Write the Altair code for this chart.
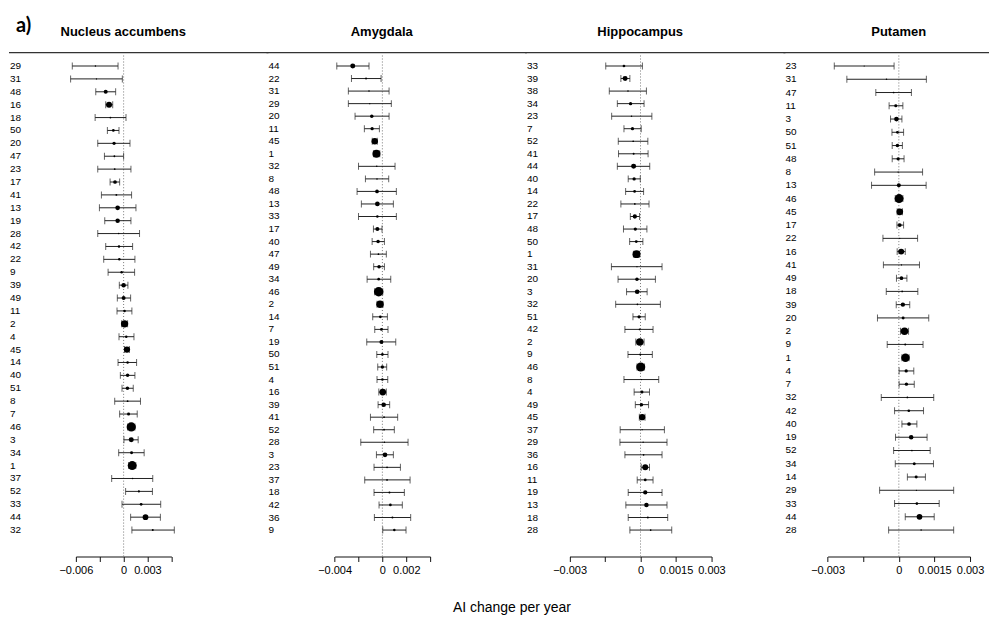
import altair as alt
import pandas as pd

# ---------------- data (values in units of 0.001 AI change per year) ----------------
NA_ids = ["29","31","48","16","18","50","20","47","23","17","41","13","19","28","42","22","9","39","49","11",
          "2","4","45","14","40","51","8","7","46","3","34","1","37","52","33","44","32"]
NA_est = [-3.54,-3.41,-2.25,-1.83,-1.66,-1.29,-1.20,-1.16,-1.12,-1.08,-0.91,-0.75,-0.75,-0.62,-0.58,-0.54,-0.25,0.00,0.00,0.12,
          0.12,0.33,0.42,0.50,0.50,0.48,0.50,0.62,0.96,0.96,1.00,1.08,1.13,1.92,2.20,2.75,3.66]
NA_lo = [-6.45,-6.66,-3.50,-2.25,-3.58,-2.04,-3.25,-2.41,-3.25,-1.70,-2.79,-3.04,-2.37,-3.25,-2.25,-2.50,-1.95,-0.54,-0.79,-0.83,
         -0.25,-0.58,0.12,-0.70,-0.41,-0.20,-1.12,-0.50,0.50,0.04,-0.62,0.63,-1.50,0.25,-0.20,0.88,1.04]
NA_hi = [-0.70,-0.16,-1.00,-1.37,0.30,-0.58,0.80,0.00,0.92,-0.50,1.00,1.55,0.92,2.00,1.13,1.42,1.38,0.54,0.88,1.04,
         0.50,1.30,0.72,1.63,1.42,1.21,2.12,1.71,1.42,1.83,2.58,1.53,3.66,3.62,4.66,4.62,6.37]
NA_w = [1.5,1.3,4,6,1.8,2.7,3.3,1.8,1.8,3.7,1.8,4.7,4.5,1.5,2.5,2.5,2.5,4.5,4,2.5,
        7.3,2.5,6.3,2.5,3.5,3.5,1.8,3,9.3,5,3,9,1.5,2.2,2.8,5.7,2]

AM_ids = ["44","22","31","29","20","11","45","1","32","8","48","13","33","17","40","47","49","34","46","2",
          "14","7","19","50","51","4","16","39","41","52","28","3","23","37","18","42","36","9"]
AM_est = [-2.48,-1.37,-1.12,-1.06,-0.89,-0.86,-0.64,-0.50,-0.47,-0.45,-0.45,-0.42,-0.42,-0.42,-0.36,-0.33,-0.28,-0.31,-0.31,-0.20,
          -0.17,-0.08,-0.08,0.00,0.00,0.00,0.03,0.11,0.14,0.14,0.17,0.22,0.39,0.39,0.59,0.67,0.84,1.00]
AM_lo = [-3.82,-2.59,-2.85,-2.85,-2.29,-1.51,-0.85,-0.75,-2.00,-1.42,-2.12,-1.76,-2.00,-0.75,-0.86,-1.00,-0.73,-1.28,-0.65,-0.45,
         -0.81,-0.64,-1.31,-0.47,-0.39,-0.45,-0.30,-0.36,-1.00,-0.73,-1.81,-0.50,-0.70,-1.48,-0.70,-0.28,-0.67,0.03]
AM_hi = [-1.12,-0.11,0.56,0.75,0.56,-0.25,-0.43,-0.22,1.06,0.53,1.17,0.92,1.17,-0.03,0.17,0.33,0.17,0.70,0.03,0.05,
         0.42,0.47,1.12,0.47,0.36,0.45,0.33,0.61,1.28,1.00,2.15,0.92,1.51,2.32,1.84,1.67,2.37,1.98]
AM_w = [5,2,1.5,1.3,3.5,3.3,6.5,8,1.5,1.5,3.7,4.7,2.5,4,3.5,1.7,3.5,2.7,9.5,7.5,
        2.8,2.8,4,2.7,3.3,2.5,6.7,4.5,1.7,1.7,1.5,4.7,1.7,1.7,2,2.7,2,2.5]

HI_ids = ["33","39","38","34","23","7","52","41","44","40","14","22","17","48","50","1","31","20","3","32",
          "51","42","2","9","46","8","4","49","45","37","29","36","16","11","19","13","18","28"]
HI_est = [-0.70,-0.65,-0.53,-0.42,-0.38,-0.34,-0.31,-0.29,-0.29,-0.27,-0.25,-0.24,-0.24,-0.22,-0.18,-0.17,-0.15,-0.15,-0.14,-0.13,
          -0.06,-0.04,-0.03,-0.01,0.01,0.04,0.06,0.04,0.07,0.07,0.11,0.13,0.20,0.20,0.20,0.25,0.31,0.43]
HI_lo = [-1.47,-0.83,-1.32,-0.98,-1.22,-0.70,-0.94,-0.93,-0.98,-0.52,-0.63,-0.83,-0.43,-0.72,-0.46,-0.30,-1.23,-0.95,-0.59,-1.05,
         -0.32,-0.66,-0.20,-0.53,-0.15,-0.70,-0.27,-0.22,-0.05,-0.86,-0.87,-0.66,0.03,-0.14,-0.52,-0.62,-0.52,-0.45]
HI_hi = [0.08,-0.45,0.25,0.15,0.48,0.03,0.31,0.32,0.39,-0.01,0.13,0.36,-0.04,0.27,0.10,-0.04,0.91,0.63,0.28,0.84,
         0.20,0.53,0.15,0.50,0.17,0.77,0.38,0.34,0.19,1.01,1.12,0.91,0.38,0.53,0.91,1.12,1.15,1.32]
HI_w = [2.7,5,1.5,3.3,1.5,3.3,1.7,2,5,3.3,2.7,1.7,4.3,3.3,2.8,8,1.2,3.5,4.7,1.7,
        3.3,1.7,7.5,2,9,1.3,3,3.5,6.3,1.3,1.3,1.7,6,2.8,4.3,4.5,2,1.7]

PU_ids = ["23","31","47","11","3","50","51","48","8","13","46","45","17","22","16","41","49","18","39","20",
          "2","9","1","4","7","32","42","40","19","52","34","14","29","33","44","28"]
PU_est = [-1.46,-0.52,-0.22,-0.13,-0.10,-0.06,-0.06,-0.03,-0.03,0.00,0.01,0.04,0.04,0.04,0.10,0.11,0.11,0.14,0.17,0.18,
          0.24,0.27,0.28,0.31,0.32,0.36,0.42,0.43,0.52,0.55,0.65,0.73,0.74,0.76,0.87,0.94]
PU_lo = [-2.72,-2.19,-0.97,-0.41,-0.35,-0.29,-0.28,-0.28,-1.02,-1.15,-0.15,-0.07,-0.08,-0.67,-0.07,-0.65,-0.10,-0.53,-0.11,-0.90,
         0.07,-0.49,0.13,0.01,0.01,-0.74,-0.18,0.13,-0.14,-0.22,-0.15,0.36,-0.81,-0.18,0.27,-0.43]
PU_hi = [-0.20,1.16,0.53,0.17,0.13,0.20,0.15,0.22,1.00,1.15,0.17,0.15,0.20,0.79,0.27,0.87,0.34,0.80,0.46,1.26,
         0.41,1.02,0.43,0.63,0.65,1.47,1.04,0.76,1.19,1.32,1.46,1.12,2.31,1.70,1.49,2.31]
PU_w = [1.2,1.5,1.7,3,4.7,2.8,3.5,3.3,1.3,4,9,6.7,3.7,1.3,6,1.3,3.7,1.7,4.3,3,
        7.5,2,8.5,3.3,3.3,1.7,2.7,3.7,4.5,1.7,3,3,1.3,2.7,5.7,1.5]

UNIT = 0.001
TITLES = ["Nucleus accumbens", "Amygdala", "Hippocampus", "Putamen"]
TICKS = [[-0.006, -0.003, 0, 0.003, 0.006],
         [-0.004, -0.002, 0, 0.002, 0.004],
         [-0.003, -0.0015, 0, 0.0015, 0.003],
         [-0.003, -0.0015, 0, 0.0015, 0.003]]
TICK_LABELS = [["\u22120.006", "", "0", "0.003", ""],
               ["\u22120.004", "", "0", "0.002", ""],
               ["\u22120.003", "", "0", "0.0015", "0.003"],
               ["\u22120.003", "", "0", "0.0015", "0.003"]]

# ---------------- layout / style ----------------
FONT = "Liberation Sans"
H = 549
WIDTHS = [259, 259, 259, 205]
XRANGES = [[67, 162.7], [67.3, 163], [43.7, 185.9], [43.3, 186]]
ROW_RANGE = [57.5, 522.5]


def label_expr(vals, labs):
    expr = "''"
    for v, l in reversed(list(zip(vals, labs))):
        expr = f"abs(datum.value - ({v})) < 1e-9 ? '{l}' : ({expr})"
    return expr


def panel(i, ids, est, lo, hi, w, with_tag=False):
    df = pd.DataFrame({
        "id": ids,
        "est": [v * UNIT for v in est],
        "lo": [v * UNIT for v in lo],
        "hi": [v * UNIT for v in hi],
        "weight": w,
    })
    width = WIDTHS[i]
    vals = TICKS[i]
    xs = alt.Scale(domain=[vals[0], vals[-1]], range=XRANGES[i], nice=False, zero=False)
    xa = alt.Axis(values=vals, labelExpr=label_expr(vals, TICK_LABELS[i]), title=None, grid=False,
                  domainColor="#111", tickColor="#111", domainWidth=1, tickWidth=1, tickSize=5,
                  labelFont=FONT, labelFontSize=11, labelColor="black", labelPadding=3,
                  labelFlush=False, labelOverlap=False)

    def X(field):
        return alt.X(f"{field}:Q", scale=xs, axis=xa)

    ys = alt.Y("id:N", sort=ids, axis=None,
               scale=alt.Scale(type="point", range=ROW_RANGE, padding=0))

    base = alt.Chart(df)
    one = pd.DataFrame({"z": [0.0], "t": [TITLES[i]], "tag": ["a)"]})

    x_start = 0 if i == 0 else -1
    x_end = width if i == 3 else width + 1
    header = alt.Chart(one).mark_rule(color="#333", strokeWidth=1.3).encode(
        x=alt.value(x_start), x2=alt.value(x_end), y=alt.value(44))
    zero = alt.Chart(one).mark_rule(color="#777", strokeDash=[1, 2], strokeWidth=1).encode(
        x=X("z"), y=alt.value(47), y2=alt.value(H))
    ci = base.mark_rule(color="#222", strokeWidth=1).encode(x=X("lo"), x2="hi:Q", y=ys)
    cap_lo = base.mark_tick(color="#222", size=7, thickness=1).encode(x=X("lo"), y=ys)
    cap_hi = base.mark_tick(color="#222", size=7, thickness=1).encode(x=X("hi"), y=ys)
    pts = base.mark_circle(color="black", opacity=1).encode(
        x=X("est"), y=ys,
        size=alt.Size("weight:Q", legend=None,
                      scale=alt.Scale(type="pow", exponent=2, domain=[0, 10], range=[0, 100])))
    labels = base.mark_text(align="left", baseline="middle", font=FONT, fontSize=10, color="black").encode(
        x=alt.value(1), y=ys, text="id:N")
    title = alt.Chart(one).mark_text(align="center", baseline="alphabetic", font=FONT, fontSize=13,
                                     fontWeight="bold", color="black").encode(
        x=alt.value(114.5), y=alt.value(27), text="t:N")
    layers = [header, zero, ci, cap_lo, cap_hi, pts, labels, title]
    if with_tag:
        tag = alt.Chart(one).mark_text(align="left", baseline="alphabetic", font="Lato", fontSize=20,
                                       fontWeight="bold", color="black").encode(
            x=alt.value(7), y=alt.value(23), text="tag:N")
        layers.append(tag)
    return alt.layer(*layers).properties(width=width, height=H)


p1 = panel(0, NA_ids, NA_est, NA_lo, NA_hi, NA_w, with_tag=True)
p2 = panel(1, AM_ids, AM_est, AM_lo, AM_hi, AM_w)
p3 = panel(2, HI_ids, HI_est, HI_lo, HI_hi, HI_w)
p4 = panel(3, PU_ids, PU_est, PU_lo, PU_hi, PU_w)

chart = alt.hconcat(p1, p2, p3, p4, spacing=0, bounds="flush").resolve_scale(
    x="independent", y="independent"
).properties(
    padding={"left": 0, "top": 0, "right": 0, "bottom": 0},
    title=alt.TitleParams("AI change per year", orient="bottom", anchor="middle", fontSize=14,
                          font=FONT, fontWeight="normal", color="black", offset=26, dx=13),
).configure(font=FONT).configure_view(stroke=None, strokeWidth=0)

chart.save("out.html", embed_options={"renderer": "svg", "actions": False})
